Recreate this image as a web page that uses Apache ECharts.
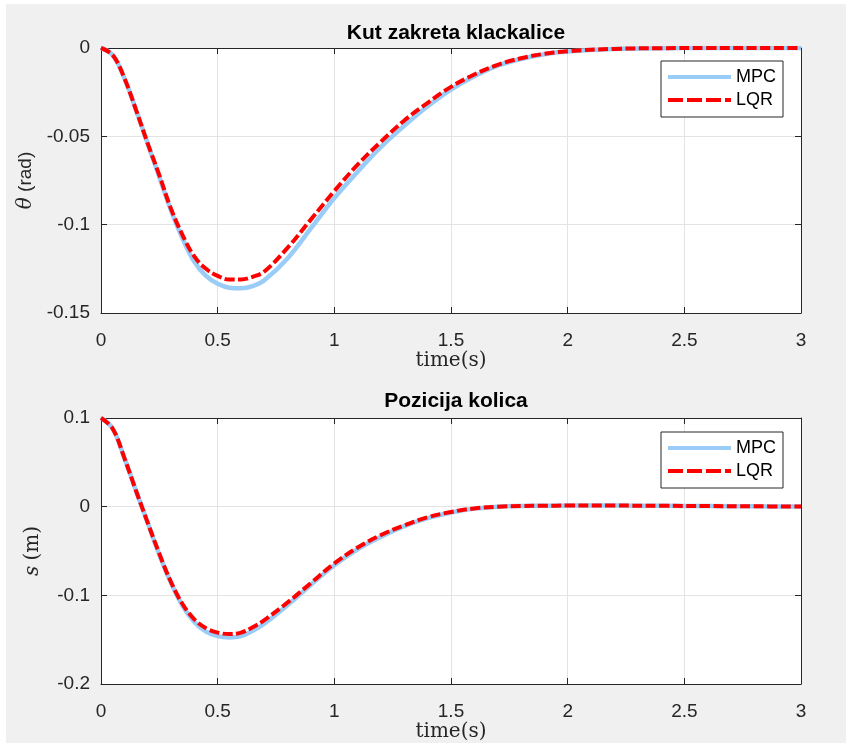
<!DOCTYPE html>
<html>
<head>
<meta charset="utf-8">
<script src="https://cdn.jsdelivr.net/npm/echarts@6/dist/echarts.min.js"></script>
<style>
html,body{margin:0;padding:0;background:#fff;}
#c{width:846px;height:743px;}
</style>
</head>
<body>
<div id="c"></div>
<script>
// ---- data ----
const time = [0,0.05,0.1,0.15,0.2,0.25,0.3,0.35,0.4,0.45,0.5,0.55,0.6,0.65,0.7,0.8,0.9,1.0,1.1,1.2,1.3,1.4,1.5,1.6,1.7,1.8,1.9,2.0,2.2,2.4,2.6,2.8,3.0];
const thetaMPC = [0,-0.004,-0.017,-0.035,-0.054,-0.073,-0.092,-0.108,-0.121,-0.129,-0.1335,-0.1357,-0.136,-0.1348,-0.1315,-0.119,-0.102,-0.085,-0.070,-0.056,-0.044,-0.033,-0.0235,-0.016,-0.010,-0.0062,-0.0035,-0.002,-0.0006,-0.0001,0,0,0];
const thetaLQR = [0,-0.004,-0.017,-0.035,-0.054,-0.072,-0.091,-0.106,-0.118,-0.125,-0.129,-0.131,-0.131,-0.1295,-0.1265,-0.113,-0.097,-0.081,-0.066,-0.053,-0.041,-0.031,-0.022,-0.015,-0.0095,-0.0058,-0.0033,-0.0018,-0.0005,-0.0001,0,0,0];
const posMPC = [0.1,0.088,0.055,0.018,-0.018,-0.054,-0.086,-0.112,-0.130,-0.141,-0.146,-0.1475,-0.146,-0.140,-0.132,-0.111,-0.088,-0.066,-0.048,-0.034,-0.022,-0.013,-0.0065,-0.0022,0,0.0008,0.001,0.0012,0.0012,0.001,0.0007,0.0004,0.0002];
const posLQR = [0.1,0.088,0.055,0.018,-0.018,-0.053,-0.085,-0.110,-0.127,-0.137,-0.142,-0.1437,-0.142,-0.136,-0.128,-0.108,-0.086,-0.064,-0.046,-0.032,-0.021,-0.012,-0.006,-0.002,0,0.0008,0.001,0.0012,0.0012,0.001,0.0007,0.0004,0.0002];
const xTicks = [0,0.5,1,1.5,2,2.5,3];
const titles = ['Kut zakreta klackalice','Pozicija kolica'];
const names = ['MPC','LQR'];

const pair = (ys) => time.map((t,i)=>[t, ys[i]]);

const axisCol = '#262626';
const sans = 'Liberation Sans, Arial, sans-serif';
const serif = 'DejaVu Serif, serif';
const tickFont = {color:'#262626', fontSize:19, fontFamily:sans};
const grids = [
  {left:101, top:48, width:700, height:265},
  {left:101, top:418, width:700, height:266}
];
const mpcColor = '#99ccf7';
const lqrColor = '#ff0000';

function mkX(gi, pos){
  const main = pos === 'bottom';
  return {
    type:'value', gridIndex:gi, position:pos, min:xTicks[0], max:xTicks[xTicks.length-1], interval:xTicks[1]-xTicks[0],
    axisLine:{show:true, onZero:false, lineStyle:{color:axisCol, width:1}},
    axisTick:{show:true, inside:true, length:6, lineStyle:{color:axisCol}},
    axisLabel:{show:main, margin:18, ...tickFont, formatter:v=>String(v)},
    splitLine:{show:main, lineStyle:{color:'#e3e3e3', width:1}},
    name: main ? 'time(s)' : '', nameLocation:'middle', nameGap:36,
    nameTextStyle:{fontFamily:serif, fontSize:20, color:'#262626'}
  };
}
function mkY(gi, pos, min, max, interval, name){
  const main = pos === 'left';
  return {
    type:'value', gridIndex:gi, position:pos, min:min, max:max, interval:interval,
    axisLine:{show:true, onZero:false, lineStyle:{color:axisCol, width:1}},
    axisTick:{show:true, inside:true, length:6, lineStyle:{color:axisCol}},
    axisLabel:{show:main, margin:11, ...tickFont, formatter:v=>String(Math.round(v*1000)/1000)},
    splitLine:{show:main, lineStyle:{color:'#e3e3e3', width:1}},
    name: main ? name : '', nameLocation:'middle', nameGap:58, nameRotate:90,
    nameTextStyle:{fontSize:19, color:'#262626', rich:{
      it:{fontFamily:serif, fontStyle:'italic', fontSize:20, color:'#262626'},
      sf:{fontFamily:sans, fontSize:19, color:'#262626'},
      rm:{fontFamily:serif, fontSize:20, color:'#262626'}
    }}
  };
}

function mkSeries(gi, mpc, lqr){
  return [
    {name:names[0], type:'line', xAxisIndex:gi*2, yAxisIndex:gi*2, data:pair(mpc), showSymbol:false, symbol:'none', smooth:0.4,
     lineStyle:{color:mpcColor, width:4.5}, itemStyle:{color:mpcColor}, z:2},
    {name:names[1], type:'line', xAxisIndex:gi*2, yAxisIndex:gi*2, data:pair(lqr), showSymbol:false, symbol:'none', smooth:0.4,
     lineStyle:{color:lqrColor, width:4, type:[10,3.5], cap:'butt'}, itemStyle:{color:lqrColor}, z:3}
  ];
}

const iconSolid = 'path://M0,0h63v4h-63z';
const iconDash = 'path://M0,0h15v4h-15z M19,0h15v4h-15z M38,0h15v4h-15z M57,0h6v4h-6z';

function mkLegend(top){
  return {
    show:true, orient:'vertical', right:63, top:top,
    data:[
      {name:names[0], icon:iconSolid, itemStyle:{color:mpcColor, borderWidth:0}},
      {name:names[1], icon:iconDash, itemStyle:{color:lqrColor, borderWidth:0}}
    ],
    itemWidth:63, itemHeight:4, itemGap:5, symbolKeepAspect:false,
    padding:[7,7,8,7], borderColor:'#262626', borderWidth:1, backgroundColor:'#fff', borderRadius:0,
    textStyle:{fontSize:18, color:'#000', fontFamily:sans},
    selectedMode:false
  };
}

const chart = echarts.init(document.getElementById('c'), null, {renderer:'canvas'});
const option = {
  backgroundColor:'#fff',
  animation:false,
  graphic:[{type:'rect', shape:{x:6, y:4, width:846, height:743}, style:{fill:'#f0f0f0'}, z:-10, silent:true}],
  title:[
    {text:titles[0], left:451, textAlign:'center', top:18, textStyle:{fontSize:21, fontWeight:'bold', color:'#000', fontFamily:sans}},
    {text:titles[1], left:451, textAlign:'center', top:386, textStyle:{fontSize:21, fontWeight:'bold', color:'#000', fontFamily:sans}}
  ],
  grid:grids.map(g=>({...g, show:true, backgroundColor:'#fff', borderWidth:0, containLabel:false})),
  legend:[mkLegend(61), mkLegend(432)],
  xAxis:[mkX(0,'bottom'), mkX(0,'top'), mkX(1,'bottom'), mkX(1,'top')],
  yAxis:[
    mkY(0,'left',-0.15,0,0.05,'{it|θ} {sf|(rad)}'), mkY(0,'right',-0.15,0,0.05,''),
    mkY(1,'left',-0.2,0.1,0.1,'{it|s} {rm|(m)}'), mkY(1,'right',-0.2,0.1,0.1,'')
  ],
  series:[...mkSeries(0, thetaMPC, thetaLQR), ...mkSeries(1, posMPC, posLQR)]
};
chart.setOption(option);
</script>
</body>
</html>
